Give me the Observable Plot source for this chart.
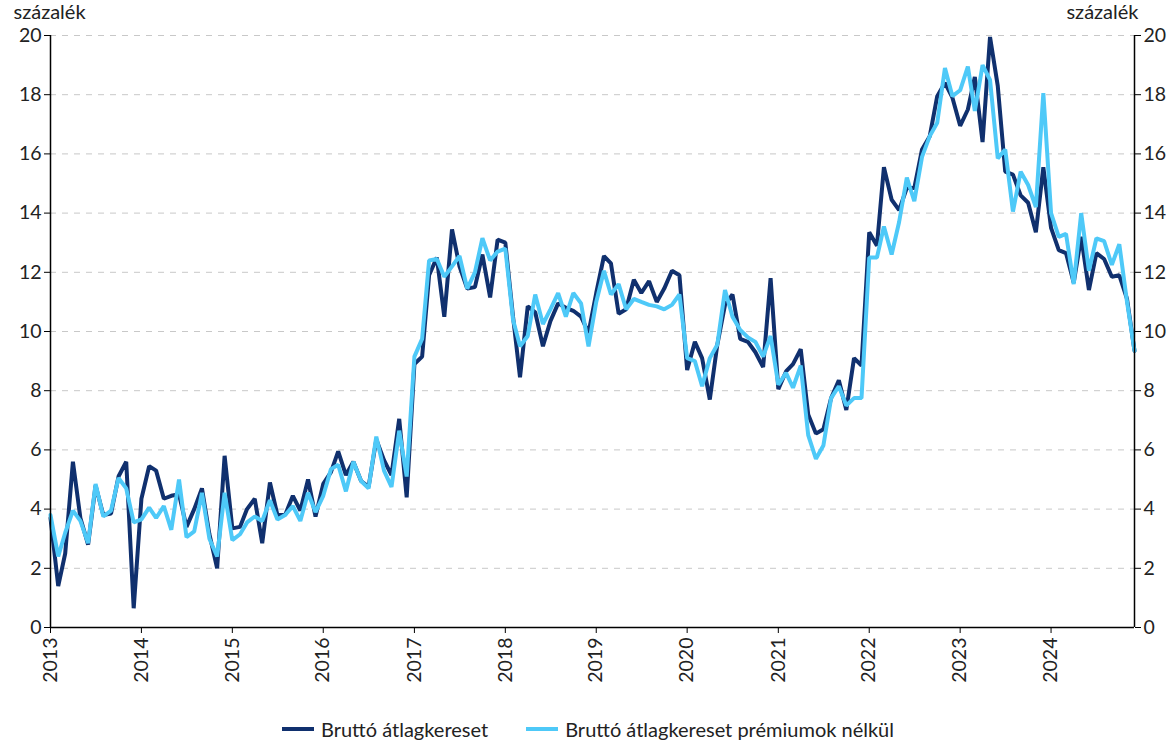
<!DOCTYPE html>
<html><head><meta charset="utf-8">
<script src="https://cdn.jsdelivr.net/npm/d3@7"></script>
<script src="https://cdn.jsdelivr.net/npm/@observablehq/plot@0.6"></script>
<style>
body{margin:0;background:#fff;font-family:Lato,"Open Sans",sans-serif;}
#legend{display:flex;justify-content:center;gap:38px;font-size:20px;color:#222;margin-top:12px;margin-left:0px}
.item{display:flex;align-items:center;gap:7px}
.sw{display:inline-block;width:32px;height:4px}
</style></head><body>
<div id="chart"></div>
<div id="legend"></div>
<script>
const startYear = 2013;
const yearLabels = ["2013","2014","2015","2016","2017","2018","2019","2020","2021","2022","2023","2024"];
const yTicks = [0,2,4,6,8,10,12,14,16,18,20];
const seriesNames = ["Bruttó átlagkereset","Bruttó átlagkereset prémiumok nélkül"];
const seriesColors = ["#10306e","#4ec9f8"];
const unitLabel = "százalék";

const brutto = [
3.7,1.4,2.5,5.6,3.7,2.8,4.8,3.8,3.85,5.1,5.6,0.65,
4.35,5.45,5.3,4.35,4.45,4.5,3.4,4.0,4.7,3.15,2.0,5.8,
3.35,3.4,4.0,4.35,2.85,4.9,3.8,3.8,4.45,3.95,5.0,3.75,
4.85,5.25,5.95,5.15,5.6,4.95,4.75,6.35,5.65,5.15,7.05,4.4,
8.9,9.15,11.9,12.5,10.5,13.45,12.2,11.45,11.5,12.6,11.15,13.1,
13.0,10.5,8.45,10.85,10.65,9.5,10.35,10.95,10.8,10.7,10.5,9.95,
11.3,12.55,12.3,10.6,10.75,11.75,11.3,11.7,11.0,11.45,12.05,11.9,
8.7,9.65,9.1,7.7,9.55,10.9,11.25,9.75,9.65,9.3,8.8,11.8,
8.05,8.65,8.9,9.4,7.2,6.55,6.7,7.75,8.35,7.35,9.1,8.85,
13.35,12.9,15.55,14.45,14.1,14.85,14.85,16.15,16.6,17.95,18.4,17.9,
16.95,17.5,18.6,16.4,19.95,18.3,15.4,15.3,14.6,14.35,13.35,15.55,
13.5,12.75,12.65,11.65,13.2,11.4,12.65,12.45,11.85,11.9,11.1,9.35
];
const premiumNelkul = [
3.8,2.4,3.2,3.95,3.6,2.85,4.85,3.75,3.95,5.05,4.7,3.55,
3.65,4.05,3.7,4.1,3.3,5.0,3.05,3.25,4.55,3.0,2.4,4.55,
2.95,3.15,3.55,3.75,3.6,4.3,3.65,3.8,4.1,3.6,4.55,3.9,
4.45,5.35,5.5,4.6,5.6,4.95,4.7,6.45,5.3,4.75,6.65,5.1,
9.15,9.75,12.4,12.45,11.85,12.2,12.55,11.45,12.0,13.15,12.4,12.7,
12.8,10.4,9.5,9.85,11.25,10.25,10.75,11.3,10.5,11.3,10.95,9.5,
11.0,12.05,11.25,11.6,10.75,11.1,11.0,10.9,10.85,10.75,10.9,11.25,
9.1,9.0,8.15,9.1,9.55,11.4,10.5,10.05,9.8,9.65,9.15,9.85,
8.2,8.6,8.1,8.85,6.5,5.7,6.15,7.75,8.15,7.5,7.75,7.75,
12.5,12.5,13.55,12.6,13.7,15.2,14.4,15.9,16.6,17.05,18.9,17.95,
18.15,18.95,17.45,19.0,18.5,15.85,16.15,14.05,15.4,14.95,14.2,18.05,
14.0,13.2,13.3,11.6,14.0,12.05,13.15,13.05,12.25,12.95,11.0,9.35
];

const monthDate = i => new Date(Date.UTC(startYear, i, 1));
const rows = [];
brutto.forEach((v,i)=>rows.push({date:monthDate(i), value:v, series:seriesNames[0]}));
premiumNelkul.forEach((v,i)=>rows.push({date:monthDate(i), value:v, series:seriesNames[1]}));
const yearTicks = yearLabels.map(y => new Date(Date.UTC(+y,0,1)));
const xDomain = [monthDate(0), monthDate(brutto.length-1)];

const font = "Lato, 'Open Sans', sans-serif";
const chart = Plot.plot({
  width: 1176, height: 705,
  marginTop: 35, marginBottom: 78, marginLeft: 50, marginRight: 42,
  style: {fontFamily: font, fontSize: "19.5px", color: "#222", background: "#fff", overflow: "visible"},
  x: {type: "utc", domain: xDomain},
  y: {domain: [0, 20]},
  color: {domain: seriesNames, range: seriesColors},
  marks: [
    Plot.gridY(yTicks.filter(d=>d>0), {stroke: "#c8c8c8", strokeOpacity: 1, strokeDasharray: "6,6", strokeWidth: 1}),
    Plot.line(rows.filter(d=>d.series===seriesNames[0]), {x:"date", y:"value", stroke: seriesColors[0], strokeWidth: 4, strokeLinejoin:"miter"}),
    Plot.line(rows.filter(d=>d.series===seriesNames[1]), {x:"date", y:"value", stroke: seriesColors[1], strokeWidth: 4, strokeLinejoin:"miter"}),
    Plot.ruleX(xDomain, {stroke: "#000", strokeWidth: 1.5}),
    Plot.ruleY([0], {stroke: "#000", strokeWidth: 1.5}),
    Plot.axisY(yTicks, {anchor: "left", tickSize: 6, tickPadding: 3, label: null, stroke:"#000", fontSize: 19.5}),
    Plot.axisY(yTicks, {anchor: "right", tickSize: 6, tickPadding: 3, label: null, stroke:"#000", fontSize: 19.5}),
    Plot.axisX(yearTicks, {tickFormat: d3.utcFormat("%Y"), tickRotate: -90, tickSize: 6, tickPadding: 4, label: null, stroke:"#000", fontSize: 19.5}),
    Plot.text([unitLabel], {frameAnchor: "top-left", dx: -37, dy: -31, textAnchor: "start", fontSize: 20}),
    Plot.text([unitLabel], {frameAnchor: "top-right", dx: 4, dy: -31, textAnchor: "end", fontSize: 20})
  ]
});
document.getElementById("chart").appendChild(chart);
const lg = document.getElementById("legend");
seriesNames.forEach((n,i)=>{
  const it = document.createElement("div"); it.className="item";
  const sw = document.createElement("span"); sw.className="sw"; sw.style.background=seriesColors[i];
  const tx = document.createElement("span"); tx.textContent = n;
  it.appendChild(sw); it.appendChild(tx); lg.appendChild(it);
});
</script></body></html>
